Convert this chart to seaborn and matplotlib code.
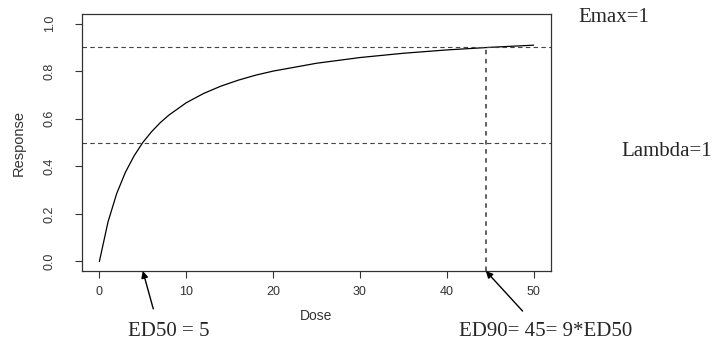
import matplotlib
matplotlib.use("Agg")
import matplotlib.pyplot as plt
import seaborn as sns
import pandas as pd

# Data
dose = [0, 1, 2, 3, 4, 5, 6, 7, 8, 10, 12, 14, 16, 18, 20, 25, 30, 35, 40, 45, 50]
response = [0.0, 0.167, 0.286, 0.375, 0.444, 0.50, 0.545, 0.583, 0.615, 0.667,
            0.706, 0.737, 0.762, 0.783, 0.80, 0.833, 0.857, 0.875, 0.889, 0.90, 0.909]
ref_levels = [0.5, 0.9]
ed50 = 5
ed90_marker = 44.5
x_ticks = [0, 10, 20, 30, 40, 50]
y_ticks = [0.0, 0.2, 0.4, 0.6, 0.8, 1.0]

df = pd.DataFrame({"Dose": dose, "Response": response})

sns.set_style("ticks")
plt.rcParams["font.family"] = ["Liberation Sans", "DejaVu Sans"]

fig = plt.figure(figsize=(7.2, 3.4), dpi=100)
ax = fig.add_axes([82/720, 69/340, (551-82)/720, (271-14)/340])

sns.lineplot(data=df, x="Dose", y="Response", ax=ax, color="black", linewidth=0.9)

for lv in ref_levels:
    ax.axhline(lv, color="#444444", linestyle=(0, (4, 3)), linewidth=0.8)
ax.plot([ed90_marker, ed90_marker], [-0.04, ref_levels[1]], color="#555555",
        linestyle=(0, (2.5, 2.5)), linewidth=1.3)

ax.set_xlim(-2, 52)
ax.set_ylim(-0.04, 1.04)
ax.set_xticks(x_ticks)
ax.set_yticks(y_ticks)
ax.set_xticklabels([str(t) for t in x_ticks], fontsize=9, color="#333333")
ax.set_yticklabels([f"{t:.1f}" for t in y_ticks], fontsize=9, color="#333333",
                   rotation=90, va="center")
ax.tick_params(axis="x", length=5, width=0.8, color="#333333", pad=6)
ax.tick_params(axis="y", length=5, width=0.8, color="#333333", pad=14)
for s in ax.spines.values():
    s.set_visible(True)
    s.set_linewidth(0.9)
    s.set_color("#333333")
ax.set_xlabel("Dose", fontsize=10, color="#333333", labelpad=8)
ax.set_ylabel("Response", fontsize=10.5, color="#333333", labelpad=13)

serif = ["Liberation Serif", "DejaVu Serif"]
fig.text(578/720, 1 - 17/340, "Emax=1", family=serif, fontsize=15, va="center", ha="left")
fig.text(621/720, 1 - 152/340, "Lambda=1", family=serif, fontsize=15, va="center", ha="left")

ax.annotate("ED50 = 5", xy=(ed50, -0.04), xycoords="data",
            xytext=(169/720, 1 - 331/340), textcoords="figure fraction",
            family=serif, fontsize=15, ha="center", va="center",
            arrowprops=dict(arrowstyle="-|>", color="black", lw=1.0,
                            shrinkA=7, shrinkB=0, mutation_scale=10,
                            relpos=(0.35, 1.0)),
            annotation_clip=False)
ax.annotate("ED90= 45= 9*ED50", xy=(ed90_marker, -0.04), xycoords="data",
            xytext=(546/720, 1 - 331/340), textcoords="figure fraction",
            family=serif, fontsize=15, ha="center", va="center",
            arrowprops=dict(arrowstyle="-|>", color="black", lw=1.0,
                            shrinkA=7, shrinkB=0, mutation_scale=10,
                            relpos=(0.42, 1.0)),
            annotation_clip=False)

fig.savefig("out.png", dpi=100)
